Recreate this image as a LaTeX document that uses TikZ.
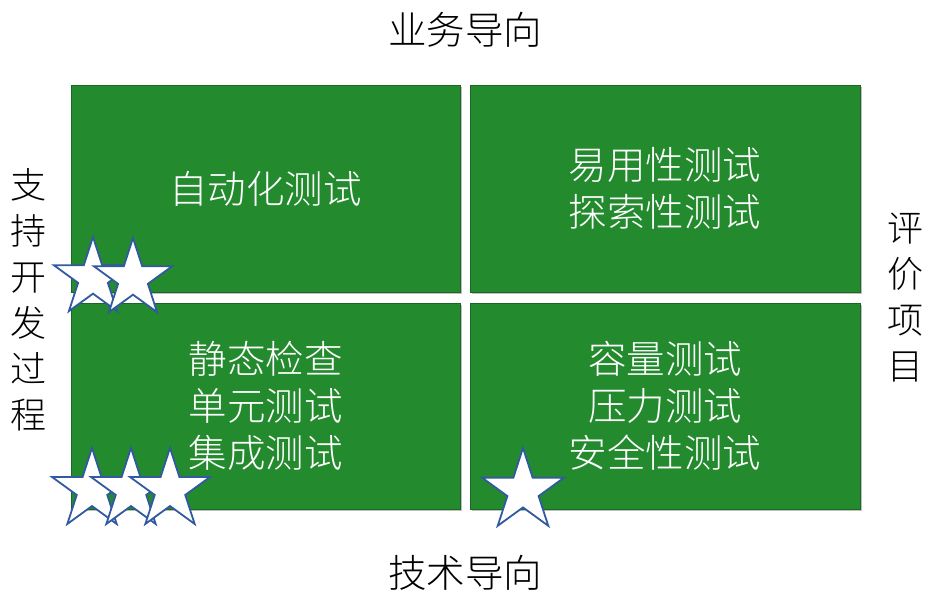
\documentclass[tikz,border=0pt]{standalone}
\usepackage{fontspec}
\newfontfamily\cjk{Noto Sans CJK SC}[UprightFont=* Light]
\usetikzlibrary{shapes.geometric}
\definecolor{boxgreen}{RGB}{35,138,46}
\definecolor{boxedge}{RGB}{25,105,34}
\definecolor{starblue}{RGB}{50,90,160}
\tikzset{
  quad/.style={fill=boxgreen, draw=boxedge, line width=0.8pt},
  quadshadow/.style={fill=black, opacity=0.25},
  boxtext/.style={text=white, font=\cjk\fontsize{38.5}{47}\selectfont, align=center, inner sep=0pt},
  sidetext/.style={text=black, font=\cjk\fontsize{36}{46}\selectfont, align=center, inner sep=0pt},
  starshape/.style={star, star points=5, star point ratio=2.618, fill=white, draw=starblue, line width=1.8pt, inner sep=0pt, minimum size=#1}
}
\begin{document}
\begin{tikzpicture}[x=1pt,y=-1pt]
\useasboundingbox (0,0) rectangle (931,602);
% shadows
\fill[quadshadow] (72.5,86.5) rectangle (462,294);
\fill[quadshadow] (471.5,86.5) rectangle (862,294);
\fill[quadshadow] (72.5,304.5) rectangle (462,511);
\fill[quadshadow] (471.5,304.5) rectangle (862,511);
% boxes
\draw[quad] (71,85) rectangle (460,292) node[midway, boxtext] (q1) {自动化测试};
\draw[quad] (470,85) rectangle (860,292) node[midway, boxtext] (q2) {易用性测试\\探索性测试};
\draw[quad] (71,303) rectangle (460,509) node[midway, boxtext] (q3) {静态检查\\单元测试\\集成测试};
\draw[quad] (470,303) rectangle (860,509) node[midway, boxtext] (q4) {容量测试\\压力测试\\安全性测试};
% labels
\node[sidetext, font=\cjk\fontsize{38.5}{47}\selectfont] (top) at (465,30) {业务导向};
\node[sidetext, font=\cjk\fontsize{38.5}{47}\selectfont] (bottom) at (465,573) {技术导向};
\node[sidetext] (left) at (28,300) {支\\持\\开\\发\\过\\程};
\node[sidetext] (right) at (905,298) {评\\价\\项\\目};
% stars
\node[starshape=82pt] (s1) at (93,278) {};
\node[starshape=82pt] (s2) at (133,279) {};
\node[starshape=84pt] (s3) at (92,490) {};
\node[starshape=84pt] (s4) at (131,490) {};
\node[starshape=84pt] (s5) at (170,490) {};
\node[starshape=86pt] (s6) at (523,491) {};
\end{tikzpicture}
\end{document}
